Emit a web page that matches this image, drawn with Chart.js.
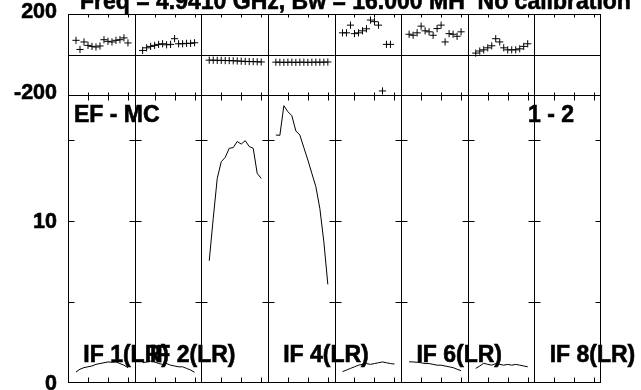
<!DOCTYPE html>
<html><head><meta charset="utf-8">
<script src="https://cdn.jsdelivr.net/npm/chart.js@4"></script>
<style>html,body{margin:0;padding:0;background:#fff;overflow:hidden}canvas{display:block}</style>
</head><body>
<div style="width:641px;height:390px;position:relative"><canvas id="c" width="641" height="390"></canvas></div>
<script>
// ---- text ----
const titleText = 'Freq = 4.9410 GHz, Bw = 16.000 MH  No calibration';
const baselineLabel = 'EF - MC';
const corrLabel = '1 - 2';
const ifLabels = ['IF 1(LR)', 'IF 2(LR)', '', 'IF 4(LR)', '', 'IF 6(LR)', '', 'IF 8(LR)'];

// ---- axes ----
const phaseTickLabels = [-200, 200];
const ampTickLabels = [0, 10];
const ampMinorTicks = [5, 10, 15];
const chanTicks = [5, 10, 15];
const nIF = 8;
const chanSpan = 50 / 3;   // channel units per IF panel

// ---- data (channels 2..15 of each IF) ----
const channels = [2, 3, 4, 5, 6, 7, 8, 9, 10, 11, 12, 13, 14, 15];

const phaseIF1 = [70, 25, 62, 45, 40, 37, 42, 73, 65, 62, 70, 73, 82, 57];
const phaseIF2 = [20, 33, 40, 45, 50, 53, 48, 50, 78, 53, 53, 55, 55, 58];
const phaseIF3 = [-28, -28, -29, -29, -30, -30, -31, -32, -33, -34, -35, -35, -36, -37];
const phaseIF4 = [-38, -38, -39, -38, -38, -39, -38, -38, -39, -38, -38, -38, -38, -37];
const phaseIF5 = [107, 107, 145, 103, 107, 117, 127, 170, 162, 145, -180, 50, 50, null];
const phaseIF6 = [100, 95, 107, 140, 117, 112, 95, 128, 145, 62, 103, 100, 90, 112];
const phaseIF7 = [7, 17, 23, 33, 43, 78, 62, 33, 23, 23, 23, 28, 40, 53];
const phaseIF8 = [];

const ampIF1 = [0.68, 0.85, 0.95, 1.0, 1.05, 1.15, 1.2, 1.25, 1.3, 1.28, 1.3, 1.2, 1.1, 0.95];
const ampIF2 = [1.25, 1.3, 1.35, 1.3, 1.2, 1.15, 1.2, 1.1, 1.05, 1.0, 1.0, 0.9, 0.8, 0.66];
const ampIF3 = [7.55, 10.17, 12.63, 13.66, 13.93, 14.49, 14.53, 14.91, 14.75, 14.96, 14.6, 14.49, 12.94, 12.63];
const ampIF4 = [15.31, 15.29, 17.12, 16.75, 16.5, 15.56, 15.31, 14.53, 13.77, 12.94, 12.12, 10.78, 8.72, 6.09];
const ampIF5 = [0.70, 0.8, 0.9, 1.0, 1.1, 1.15, 1.2, 1.15, 1.2, 1.25, 1.3, 1.25, 1.2, 1.17];
const ampIF6 = [1.31, 1.3, 1.28, 1.25, 1.2, 1.2, 1.15, 1.1, 1.1, 1.05, 1.0, 0.95, 0.85, 0.76];
const ampIF7 = [0.9, 1.05, 1.22, 1.15, 1.1, 1.2, 1.15, 1.1, 1.15, 1.1, 1.15, 1.1, 1.05, 1.0];
const ampIF8 = [];

const phaseSeries = [phaseIF1, phaseIF2, phaseIF3, phaseIF4, phaseIF5, phaseIF6, phaseIF7, phaseIF8];
const ampSeries = [ampIF1, ampIF2, ampIF3, ampIF4, ampIF5, ampIF6, ampIF7, ampIF8];

const FONT = "'Liberation Sans', Arial, Helvetica, sans-serif";

const datasets = [];
phaseSeries.forEach((arr, i) => {
  datasets.push({
    type: 'scatter', yAxisID: 'yP', showLine: false,
    data: arr.map((v, k) => ({x: i * chanSpan + channels[k], y: v})).filter(p => p.y !== null),
    pointStyle: 'cross', pointRadius: 3.6, pointBorderWidth: 1,
    borderColor: '#000', backgroundColor: '#000'
  });
});
ampSeries.forEach((arr, i) => {
  datasets.push({
    type: 'line', yAxisID: 'yA',
    data: arr.map((v, k) => ({x: i * chanSpan + channels[k], y: v})),
    borderColor: '#000', borderWidth: 1, pointRadius: 0, tension: 0, fill: false
  });
});

const P = v => Math.round(v) + 0.5;

const framePlugin = {
  id: 'frame',
  beforeDatasetsDraw(chart) {
    const ctx = chart.ctx;
    const xs = chart.scales.x, yP = chart.scales.yP, yA = chart.scales.yA;
    const L = P(xs.left), R = P(xs.right) - 1;
    const T = P(yP.top), M = P(yP.bottom), B = P(yA.bottom) - 1;
    ctx.save();
    ctx.strokeStyle = '#000';
    ctx.lineWidth = 1;
    const line = (x1, y1, x2, y2) => { ctx.beginPath(); ctx.moveTo(x1, y1); ctx.lineTo(x2, y2); ctx.stroke(); };
    ctx.strokeRect(L, T, R - L, B - T);
    line(L, M, R, M);
    const z = P(yP.getPixelForValue(0));
    line(L, z, R, z);
    for (let k = 1; k < nIF; k++) {
      const xd = P(xs.getPixelForValue(k * chanSpan));
      line(xd, T, xd, B);
    }
    for (let k = 0; k < nIF; k++) {
      for (const c of chanTicks) {
        const x = P(xs.getPixelForValue(k * chanSpan + c));
        line(x, T, x, T + 3);
        line(x, M - 3, x, M + 5);
        line(x, B - 5, x, B);
      }
    }
    for (const v of ampMinorTicks) {
      const y = P(yA.getPixelForValue(v));
      line(L, y, L + 6, y);
      line(R - 5, y, R, y);
      for (let k = 1; k < nIF; k++) {
        const xd = P(xs.getPixelForValue(k * chanSpan));
        line(xd - 6, y, xd + 6, y);
      }
    }
    ctx.restore();
  },
  afterDraw(chart) {
    const ctx = chart.ctx;
    const xs = chart.scales.x;
    ctx.save();
    ctx.fillStyle = '#000';
    ctx.strokeStyle = '#000';
    ctx.lineWidth = 0.6;
    ctx.textBaseline = 'alphabetic';
    ctx.textAlign = 'left';
    ctx.font = 'bold 23px ' + FONT;
    const txt = (t, x, y) => { ctx.fillText(t, x, y); ctx.strokeText(t, x, y); };
    txt(titleText, 80, 9);
    txt(baselineLabel, 74, 122);
    txt(corrLabel, 528, 122);
    ifLabels.forEach((t, k) => {
      if (!t) return;
      const x0 = xs.getPixelForValue(k * chanSpan);
      txt(t, x0 + 15.3, 362);
    });
    ctx.restore();
  }
};

const fitY = s => { s.width = 68; s.paddingTop = 0; s.paddingBottom = 0; };
const tickFont = {family: FONT, size: 21.5, weight: 'bold'};

new Chart(document.getElementById('c'), {
  data: {datasets},
  options: {
    responsive: false, animation: false, devicePixelRatio: 1,
    layout: {padding: {top: 14, bottom: 7, left: 0, right: 40}},
    plugins: {legend: {display: false}, tooltip: {enabled: false}, title: {display: false}},
    scales: {
      x: {type: 'linear', display: false, min: 0, max: nIF * chanSpan},
      yA: {
        type: 'linear', position: 'left', stack: 'v', stackWeight: 288,
        min: 0, max: 17.78,
        grid: {display: false, drawTicks: false}, border: {display: false},
        afterBuildTicks: s => { s.ticks = ampTickLabels.map(v => ({value: v})); },
        afterFit: fitY,
        ticks: {color: '#000', padding: 11, font: tickFont, labelOffset: 1.5, textStrokeColor: '#000', textStrokeWidth: 0.6}
      },
      yP: {
        type: 'linear', position: 'left', stack: 'v', stackWeight: 81,
        min: -200, max: 200,
        grid: {display: false, drawTicks: false}, border: {display: false},
        afterBuildTicks: s => { s.ticks = phaseTickLabels.map(v => ({value: v})); },
        afterFit: fitY,
        ticks: {color: '#000', padding: 11, font: tickFont, labelOffset: -1.5, textStrokeColor: '#000', textStrokeWidth: 0.6}
      }
    }
  },
  plugins: [framePlugin]
});
</script>
</body></html>
